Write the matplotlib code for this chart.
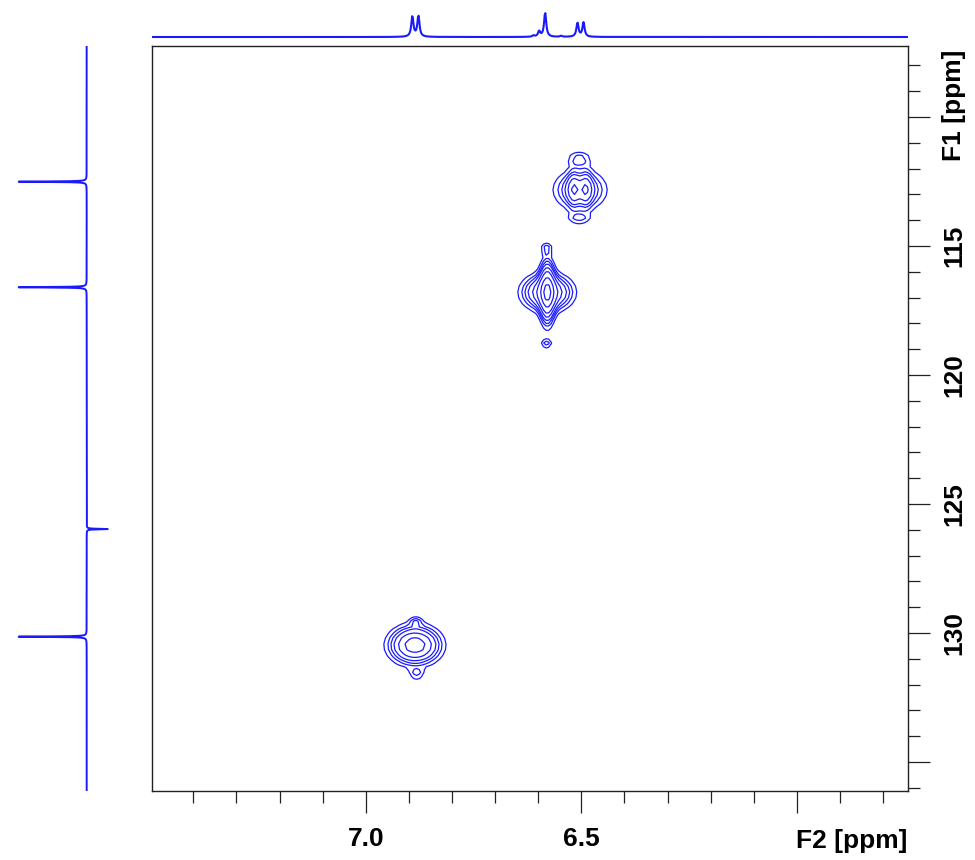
import numpy as np
import matplotlib
matplotlib.use("Agg")
import matplotlib.pyplot as plt
from matplotlib.ticker import MultipleLocator

plt.rcParams['font.family'] = ['Liberation Sans', 'DejaVu Sans']
plt.rcParams['font.weight'] = 'bold'

# axis ranges (ppm)
f2_range = (7.496, 5.743)
f1_range = (136.12, 107.24)

f2_major = [7.0, 6.5, 6.0]
f2_labels = ['7.0', '6.5', '']
f1_major = [110, 115, 120, 125, 130, 135]
f1_labels = ['', '115', '120', '125', '130', '']

# 2D cross peak components: F2 centre, F1 centre, F2 sigma, F1 sigma, height
cp_f2 = [6.503, 6.518, 6.489, 6.579, 6.579, 6.886]
cp_f1 = [112.83, 112.80, 112.80, 116.80, 116.80, 130.47]
cp_sf2 = [0.036, 0.009, 0.009, 0.034, 0.0105, 0.035]
cp_sf1 = [0.46, 0.42, 0.42, 0.41, 0.66, 0.43]
cp_amp = [0.55, 0.38, 0.38, 0.90, 1.40, 1.00]

# small t1-noise satellites above / below each cross peak
sat_f2 = [6.505, 6.505, 6.581, 6.581, 6.884, 6.882]
sat_f1 = [111.62, 113.95, 115.10, 118.80, 129.55, 131.60]
sat_sf2 = [0.019, 0.019, 0.0095, 0.0095, 0.010, 0.012]
sat_sf1 = [0.19, 0.16, 0.13, 0.13, 0.12, 0.13]
sat_amp = [0.25, 0.22, 0.25, 0.25, 0.22, 0.25]

contour_levels = [0.12, 0.20, 0.28, 0.38, 0.55, 0.80, 1.30, 1.90]

# 1H projection (top): shift, height
h_shift = [6.892, 6.878, 6.611, 6.598, 6.584, 6.547, 6.509, 6.495]
h_height = [0.82, 0.84, 0.05, 0.22, 0.97, 0.04, 0.56, 0.57]
h_hwhm = 0.003

# 13C projection (left): shift, height (negative = drawn to the left)
c_shift = [112.51, 116.60, 125.97, 130.14]
c_height = [-1.0, -1.0, 0.31, -1.0]
c_hwhm = 0.012

blue = '#1a1aff'


def lorentz(x, x0, hw):
    return 1.0 / (1.0 + ((x - x0) / hw) ** 2)


def gauss2d(X, Y, x0, y0, sx, sy):
    return np.exp(-0.5 * ((X - x0) / sx) ** 2 - 0.5 * ((Y - y0) / sy) ** 2)


fig = plt.figure(figsize=(9.75, 8.6), dpi=100)
W, H = 975.0, 860.0
left, right = 152 / W, 907.7 / W
bot, top = (H - 791) / H, (H - 45.7) / H

ax = fig.add_axes([left, bot, right - left, top - bot])
ax_top = fig.add_axes([left, (H - 44) / H, right - left, 44 / H], sharex=ax)
ax_left = fig.add_axes([0.0, bot, 120 / W, top - bot], sharey=ax)

# 2D spectrum on a coarse grid like the processed data
f2 = np.arange(5.70, 7.55, 0.006)
f1 = np.arange(106.0, 138.0, 0.22)
X, Y = np.meshgrid(f2, f1)
Z = np.zeros_like(X)
for x0, y0, sx, sy, a in zip(cp_f2, cp_f1, cp_sf2, cp_sf1, cp_amp):
    Z += a * gauss2d(X, Y, x0, y0, sx, sy)
for x0, y0, sx, sy, a in zip(sat_f2, sat_f1, sat_sf2, sat_sf1, sat_amp):
    Z += a * gauss2d(X, Y, x0, y0, sx, sy)

ax.contour(X, Y, Z, levels=contour_levels, colors=blue, linewidths=0.9)

ax.set_xlim(*f2_range)
ax.set_ylim(*f1_range)

# ticks: bottom and right only, pointing out
ax.yaxis.tick_right()
ax.set_xticks(f2_major)
ax.set_xticklabels(f2_labels)
ax.set_yticks(f1_major)
ax.set_yticklabels(f1_labels, rotation=90, va='center')
ax.xaxis.set_minor_locator(MultipleLocator(0.1))
ax.yaxis.set_minor_locator(MultipleLocator(1))
ax.tick_params(which='major', direction='out', length=16, width=0.9, labelsize=19, color='#222222')
ax.tick_params(which='minor', direction='out', length=8.5, width=0.9, color='#222222')
ax.tick_params(axis='x', which='major', pad=10)
ax.tick_params(axis='y', which='major', pad=9)
ax.tick_params(top=False, left=False, which='both')
for s in ax.spines.values():
    s.set_linewidth(1.0)
    s.set_color('#222222')

ax.annotate('F2 [ppm]', xy=(1, 0), xycoords='axes fraction', xytext=(0, -27.5),
            textcoords='offset points', ha='right', va='top', fontsize=19, fontweight='bold')
ax.annotate('F1 [ppm]', xy=(1, 1), xycoords='axes fraction', xytext=(25, -3),
            textcoords='offset points', ha='left', va='top', rotation=90,
            fontsize=19, fontweight='bold')

# top projection
hx = np.arange(5.70, 7.55, 0.0015)
hy = np.zeros_like(hx)
for s, a in zip(h_shift, h_height):
    hy += a * lorentz(hx, s, h_hwhm)
ax_top.plot(hx, hy, color=blue, lw=1.5)
ax_top.set_ylim(-0.28, 1.48)
ax_top.axis('off')

# left projection
cy = np.arange(106.0, 138.0, 0.01)
cx = np.zeros_like(cy)
for s, a in zip(c_shift, c_height):
    cx += a * lorentz(cy, s, c_hwhm)
ax_left.plot(cx, cy, color=blue, lw=1.4)
ax_left.set_xlim(-1.275, 0.49)
ax_left.axis('off')

fig.savefig('out.png', dpi=100)
